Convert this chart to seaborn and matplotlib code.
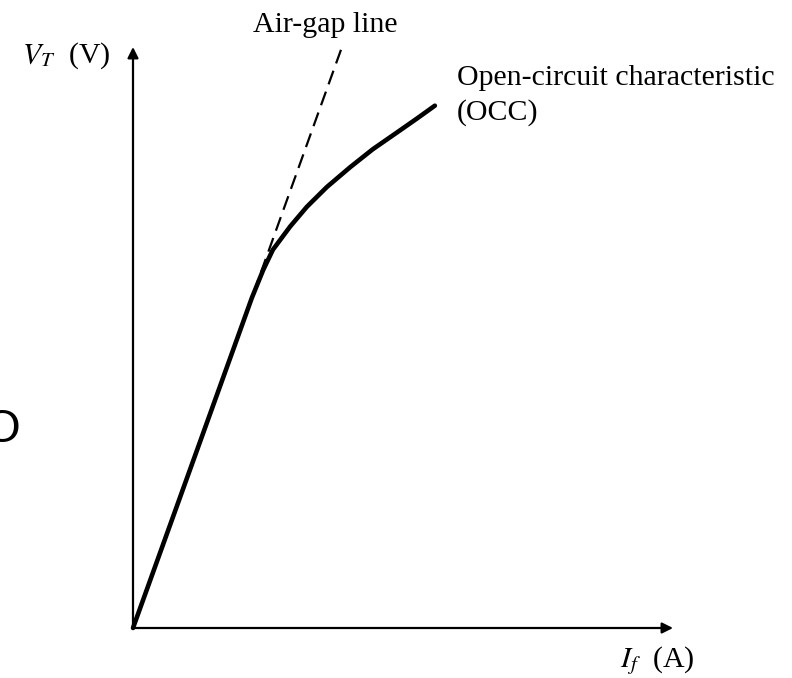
import matplotlib
matplotlib.use("Agg")
import matplotlib.pyplot as plt
import seaborn as sns

# field current (A) vs terminal voltage (V), arbitrary units
occ_if = [0.0, 2.20, 2.41, 2.59, 2.91, 3.22, 3.59, 4.02, 4.44, 4.89, 5.26, 5.59]
occ_vt = [0.0, 5.68, 6.16, 6.51, 6.91, 7.25, 7.59, 7.93, 8.24, 8.53, 8.77, 8.99]

airgap_if = [0.0, 3.87]
airgap_vt = [0.0, 10.0]

sns.set_style("white")
plt.rcParams["mathtext.fontset"] = "stix"
plt.rcParams["text.color"] = "black"
serif = ["Liberation Serif", "DejaVu Serif"]

W, H = 792, 678
fig = plt.figure(figsize=(W / 100, H / 100), dpi=100)
ax = fig.add_axes([0, 0, 1, 1])

# origin at pixel (133, 628), x=10 at 673 px, y=10 at 47 px
sx = 54.0
sy = 58.1
ax.set_xlim(-133 / sx, (W - 133) / sx)
ax.set_ylim(-(H - 628) / sy, 628 / sy)
ax.axis("off")


def px(x, y):
    return x / W, 1 - y / H


# axes with arrows
arrow = dict(arrowstyle="-|>", lw=1.6, color="black", mutation_scale=16,
             shrinkA=0, shrinkB=0)
ax.annotate("", xy=(10, 0), xytext=(0, 0), arrowprops=arrow)
ax.annotate("", xy=(0, 10), xytext=(0, 0), arrowprops=arrow)

# air-gap line (dashed) and OCC (solid)
sns.lineplot(x=airgap_if, y=airgap_vt, ax=ax, color="black", lw=1.6,
             linestyle=(0, (6.5, 3.5)), sort=False, estimator=None)
sns.lineplot(x=occ_if, y=occ_vt, ax=ax, color="black", lw=3.3,
             sort=False, estimator=None, solid_capstyle="round",
             solid_joinstyle="round")

fs = 21.5
fig.text(*px(253, 32), "Air-gap line", family=serif, fontsize=fs,
         ha="left", va="baseline")
fig.text(*px(22, 63), r"$V_T$  (V)", family=serif, fontsize=fs,
         ha="left", va="baseline")
fig.text(*px(457, 85), "Open-circuit characteristic", family=serif,
         fontsize=fs, ha="left", va="baseline")
fig.text(*px(457, 120), "(OCC)", family=serif, fontsize=fs,
         ha="left", va="baseline")
fig.text(*px(620, 667), r"$I_f$  (A)", family=serif, fontsize=fs,
         ha="left", va="baseline")
fig.text(*px(21, 430), "O", family=["Liberation Sans", "DejaVu Sans"],
         fontsize=34, ha="right", va="center")

fig.savefig("out.png", dpi=100)
